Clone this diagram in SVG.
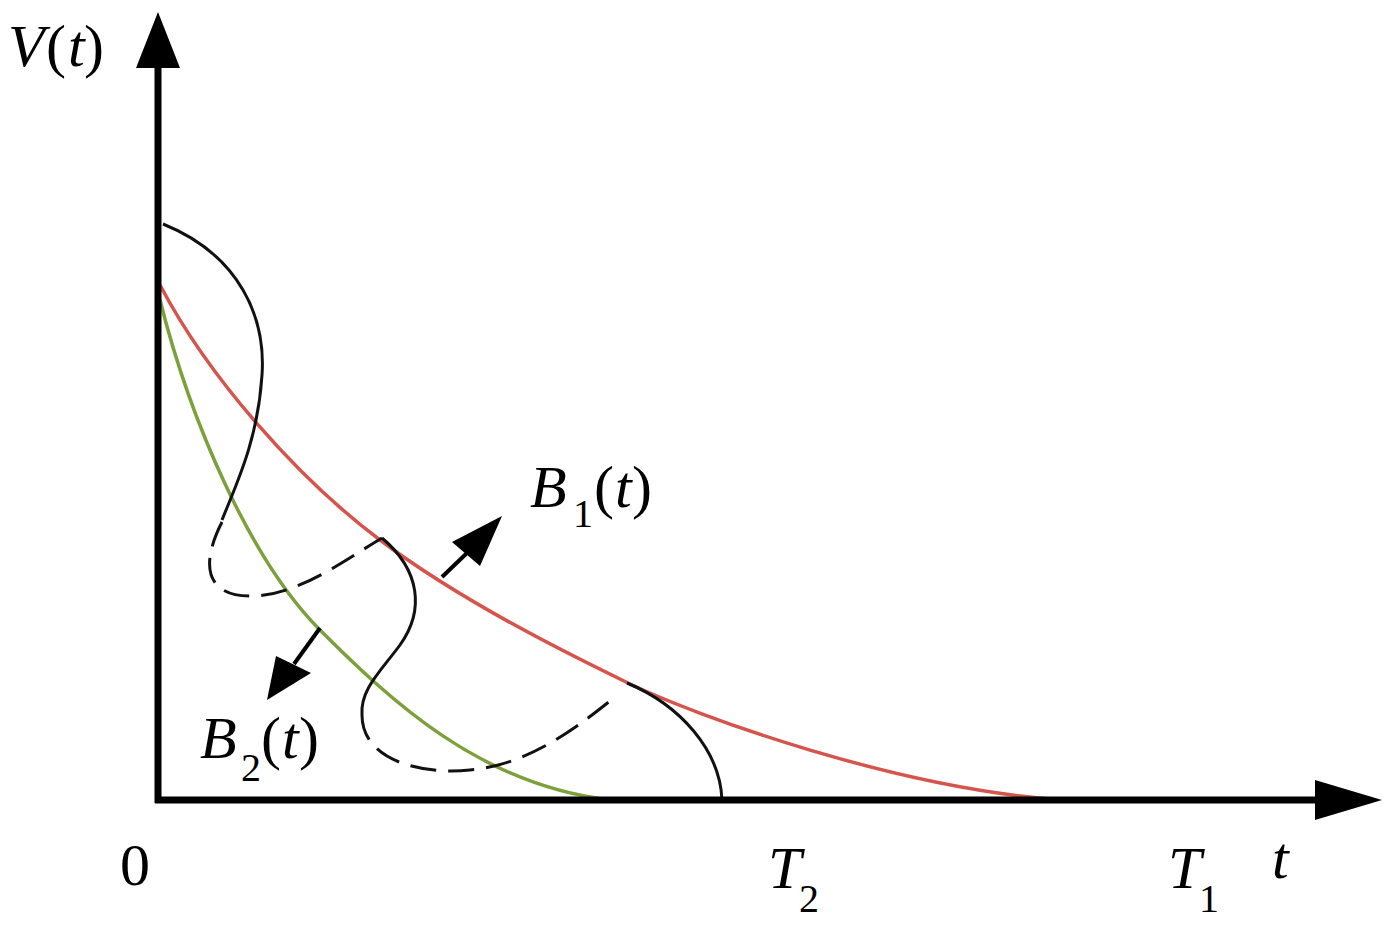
<svg xmlns="http://www.w3.org/2000/svg" width="1394" height="925" viewBox="0 0 1394 925">
<style>
.lbl{font-family:"Liberation Serif","Times New Roman",serif;font-size:60px;fill:#000}
.it{font-style:italic}
.sub{font-size:40px}
.red{fill:none;stroke:#d5554c;stroke-width:3.5}
.grn{fill:none;stroke:#7ca13c;stroke-width:3.5}
.blk{fill:none;stroke:#111;stroke-width:3}
.dash{fill:none;stroke:#111;stroke-width:3;stroke-dasharray:26 12}
.axis{stroke:#000;stroke-width:7}
.arr{stroke:#000;stroke-width:4}
</style>
<rect width="1394" height="925" fill="#fff"/>
<g id="curves">
<path class="red" d="M160,285 C210,380 300,480 380,540 S560,650 628,683 S900,790 1065,800"/>
<path class="grn" d="M160,300 C190,420 250,560 320,630 S480,785 610,800"/>
<path class="blk" d="M163,224 C240,255 266,318 262,375 C258,440 236,485 222,520"/>
<path class="dash" d="M222,522 C200,565 205,598 255,596 C300,594 345,560 382,538"/>
<path class="blk" d="M382,538 C420,570 425,610 400,645 C380,672 360,690 362,715"/>
<path class="dash" d="M362,715 C362,760 420,775 470,770 C530,765 580,725 615,697"/>
<path class="blk" d="M627,683 C680,705 720,750 722,800"/>
</g>
<g id="connectors">
<line class="axis" x1="158" y1="803" x2="158" y2="60"/>
<polygon points="158,12 136,68 180,68" fill="#000"/>
<line class="axis" x1="155" y1="800" x2="1320" y2="800"/>
<polygon points="1382,800 1315,780 1315,820" fill="#000"/>
<line class="arr" x1="442" y1="577" x2="468" y2="552"/>
<polygon points="502,516 452,542 480,566" fill="#000"/>
<line class="arr" x1="320" y1="628" x2="294" y2="664"/>
<polygon points="267,700 276,656 311,673" fill="#000"/>
</g>
<g id="labels">
<text class="lbl" y="66"><tspan class="it" x="8">V</tspan><tspan x="46">(</tspan><tspan class="it" x="68">t</tspan><tspan x="84">)</tspan></text>
<text class="lbl" y="507"><tspan class="it" x="530">B</tspan><tspan x="594">(</tspan><tspan class="it" x="615">t</tspan><tspan x="632">)</tspan></text>
<text class="lbl sub" x="573" y="527">1</text>
<text class="lbl" y="758"><tspan class="it" x="200">B</tspan><tspan x="261">(</tspan><tspan class="it" x="282">t</tspan><tspan x="299">)</tspan></text>
<text class="lbl sub" x="241" y="781">2</text>
<text class="lbl" x="120" y="885">0</text>
<text class="lbl it" x="768" y="888">T</text>
<text class="lbl sub" x="799" y="912">2</text>
<text class="lbl it" x="1168" y="888">T</text>
<text class="lbl sub" x="1199" y="912">1</text>
<text class="lbl it" x="1272" y="878">t</text>
</g>
</svg>
